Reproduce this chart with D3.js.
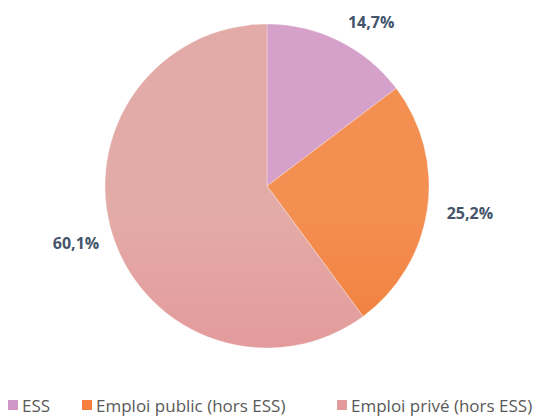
<!DOCTYPE html>
<html><head><meta charset="utf-8">
<script src="https://cdn.jsdelivr.net/npm/d3@7"></script>
<style>body{margin:0;background:#fff}svg{display:block}</style>
</head><body>
<svg id="c" width="533" height="419"></svg>
<script>
const categories = ["ESS", "Emploi public (hors ESS)", "Emploi privé (hors ESS)"];
const values = [14.7, 25.2, 60.1];
const labels = ["14,7%", "25,2%", "60,1%"];

const colorsTop = ["#d5a0ca", "#f48f52", "#e3aba7"];
const colorsBottom = ["#c98abf", "#ec6b1f", "#e3858b"];
const legendColors = ["#d097c6", "#f47f3e", "#e39a9b"];
const labelNudge = [[15, 15], [5, -2], [-1, -5]];

const W = 533, H = 419, cx = 267, cy = 186, r = 162;
const svg = d3.select("#c");
const defs = svg.append("defs");
categories.forEach((c, i) => {
  const g = defs.append("linearGradient").attr("id", "g" + i)
    .attr("gradientUnits", "userSpaceOnUse")
    .attr("x1", 0).attr("x2", 0).attr("y1", cy - r).attr("y2", cy + r);
  g.append("stop").attr("offset", "0%").attr("stop-color", colorsTop[i]);
  g.append("stop").attr("offset", "100%").attr("stop-color", colorsBottom[i]);
});

const pie = d3.pie().sort(null).value(d => d)(values);
const arc = d3.arc().innerRadius(0).outerRadius(r);
const lab = d3.arc().innerRadius(200).outerRadius(200);
const gp = svg.append("g").attr("transform", `translate(${cx},${cy})`);
gp.selectAll("path").data(pie).enter().append("path")
  .attr("d", arc)
  .attr("fill", (d, i) => `url(#g${i})`)
  .attr("stroke", "#fff").attr("stroke-width", 0.3);
gp.selectAll("text").data(pie).enter().append("text")
  .attr("x", (d, i) => lab.centroid(d)[0] + labelNudge[i][0])
  .attr("y", (d, i) => lab.centroid(d)[1] + labelNudge[i][1])
  .attr("text-anchor", "middle").attr("dominant-baseline", "central")
  .attr("font-family", "Open Sans, sans-serif").attr("font-weight", "bold")
  .attr("font-size", 16).attr("fill", "#44546a")
  .text((d, i) => labels[i]);

const legX = [8, 82, 337];
const lg = svg.append("g");
categories.forEach((c, i) => {
  lg.append("rect").attr("x", legX[i]).attr("y", 400).attr("width", 10).attr("height", 10)
    .attr("fill", legendColors[i]);
  lg.append("text").attr("x", legX[i] + 14).attr("y", 405)
    .attr("dominant-baseline", "central")
    .attr("font-family", "Open Sans, sans-serif").attr("font-size", 17)
    .attr("fill", "#595959").text(c);
});
</script>
</body></html>
